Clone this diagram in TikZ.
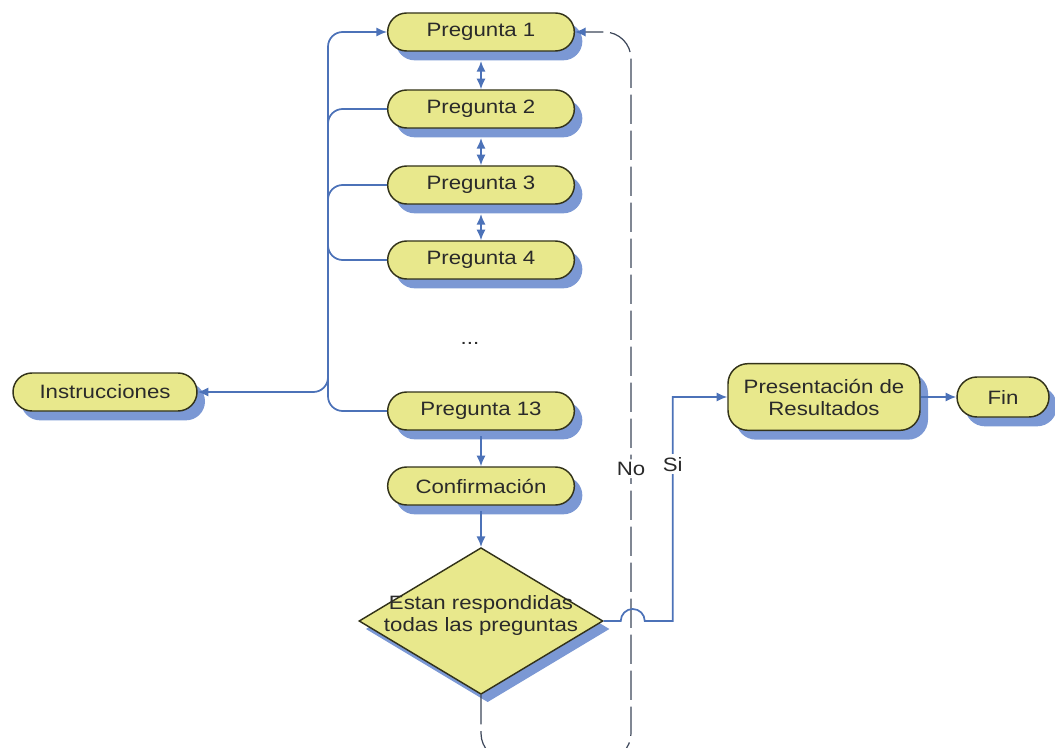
\documentclass[tikz,border=0pt]{standalone}
\usepackage{fontspec}
\setmainfont{Liberation Sans}[FakeStretch=1.15]
\usetikzlibrary{arrows.meta,positioning,shapes.misc,shapes.geometric,shadows}
\definecolor{Pale}{HTML}{E8E88C}
\definecolor{Olive}{HTML}{33331A}
\definecolor{Steel}{HTML}{4C72B8}
\definecolor{Sky}{HTML}{7B98D4}
\definecolor{Ink}{HTML}{2A2A2A}
\definecolor{Slate}{HTML}{3C4659}

\begin{document}
\begin{tikzpicture}[x=.75pt,y=-.75pt,font=\fontsize{14.5}{16.5}\selectfont,>={Latex[length=8pt,width=7pt]},
pill/.style={rounded rectangle,draw=Olive,line width=1.1pt,fill=Pale,text=Ink,minimum width=144pt,minimum height=28.5pt,inner sep=2pt,general shadow={fill=Sky,shadow xshift=6pt,shadow yshift=-7pt}},
panel/.style={pill,rectangle,rounded corners=15pt,align=center,minimum width=144pt,minimum height=50pt},
check/.style={diamond,draw=Olive,line width=1.1pt,fill=Pale,minimum width=183pt,minimum height=110pt,inner sep=0pt,general shadow={fill=Sky,shadow xshift=5pt,shadow yshift=-6pt}},
link/.style={draw=Steel,line width=1.3pt},
nolink/.style={draw=Slate,line width=.9pt,dash pattern=on 22pt off 5pt},
lbl/.style={fill=white,inner sep=2pt,text=Ink}]
\useasboundingbox (0,0) rectangle (1055,748);
\clip (0,0) rectangle (1055,748);
\node[pill](p1) at (481,32){Pregunta 1};
\node[pill](p2) at (481,109){Pregunta 2};
\node[pill](p3) at (481,185){Pregunta 3};
\node[pill](p4) at (481,260){Pregunta 4};
\node[text=Ink](dots) at (470,343){...};
\node[pill](p13) at (481,411){Pregunta 13};
\node[pill](conf) at (481,486){Confirmación};
\node[check,label={[text=Ink,align=center,yshift=4pt]center:{Estan respondidas\\todas las preguntas}}](check) at (481,621){};
\node[pill,minimum width=142pt](instr) at (105,392){Instrucciones};
\node[panel](pres) at (824,397){Presentación de\\Resultados};
\node[pill,minimum width=73pt,minimum height=30pt](fin) at (1003,397){Fin};
\coordinate (trunk) at (328,200);
\coordinate (nobase) at (631,760);
% entry and exits of the question list
\draw[link,<->,rounded corners=11pt](instr.east) -| (trunk) |- (p1.west);
\draw[link,rounded corners=11pt](trunk) |- (p2.west);\draw[link,rounded corners=11pt](trunk) |- (p3.west);\draw[link,rounded corners=11pt](trunk) |- (p4.west);\draw[link,rounded corners=11pt](trunk) |- (p13.west);
\draw[link,<->,shorten <=7pt](p1.south)--(p2.north);\draw[link,<->,shorten <=7pt](p2.south)--(p3.north);\draw[link,<->,shorten <=7pt](p3.south)--(p4.north);
\draw[link,->,shorten <=4pt](p13.south)--(conf.north);\draw[link,->,shorten <=4pt](conf.south)--(check.north);
% answers
\draw[nolink,-{Latex[length=8pt,width=7pt,color=Steel]},rounded corners=20pt](check.south) |- (nobase) |- node[lbl,pos=.2]{No} (p1.east);
\draw[link,->](check.east) -- ++(17,0) arc[start angle=180,end angle=360,radius=12] -- ++(28,0) coordinate(siturn) -- node[lbl,pos=.7]{Si} (siturn |- pres.west) -- (pres.west);
\draw[link,->](pres.east)--(fin.west);
\end{tikzpicture}
\end{document}
